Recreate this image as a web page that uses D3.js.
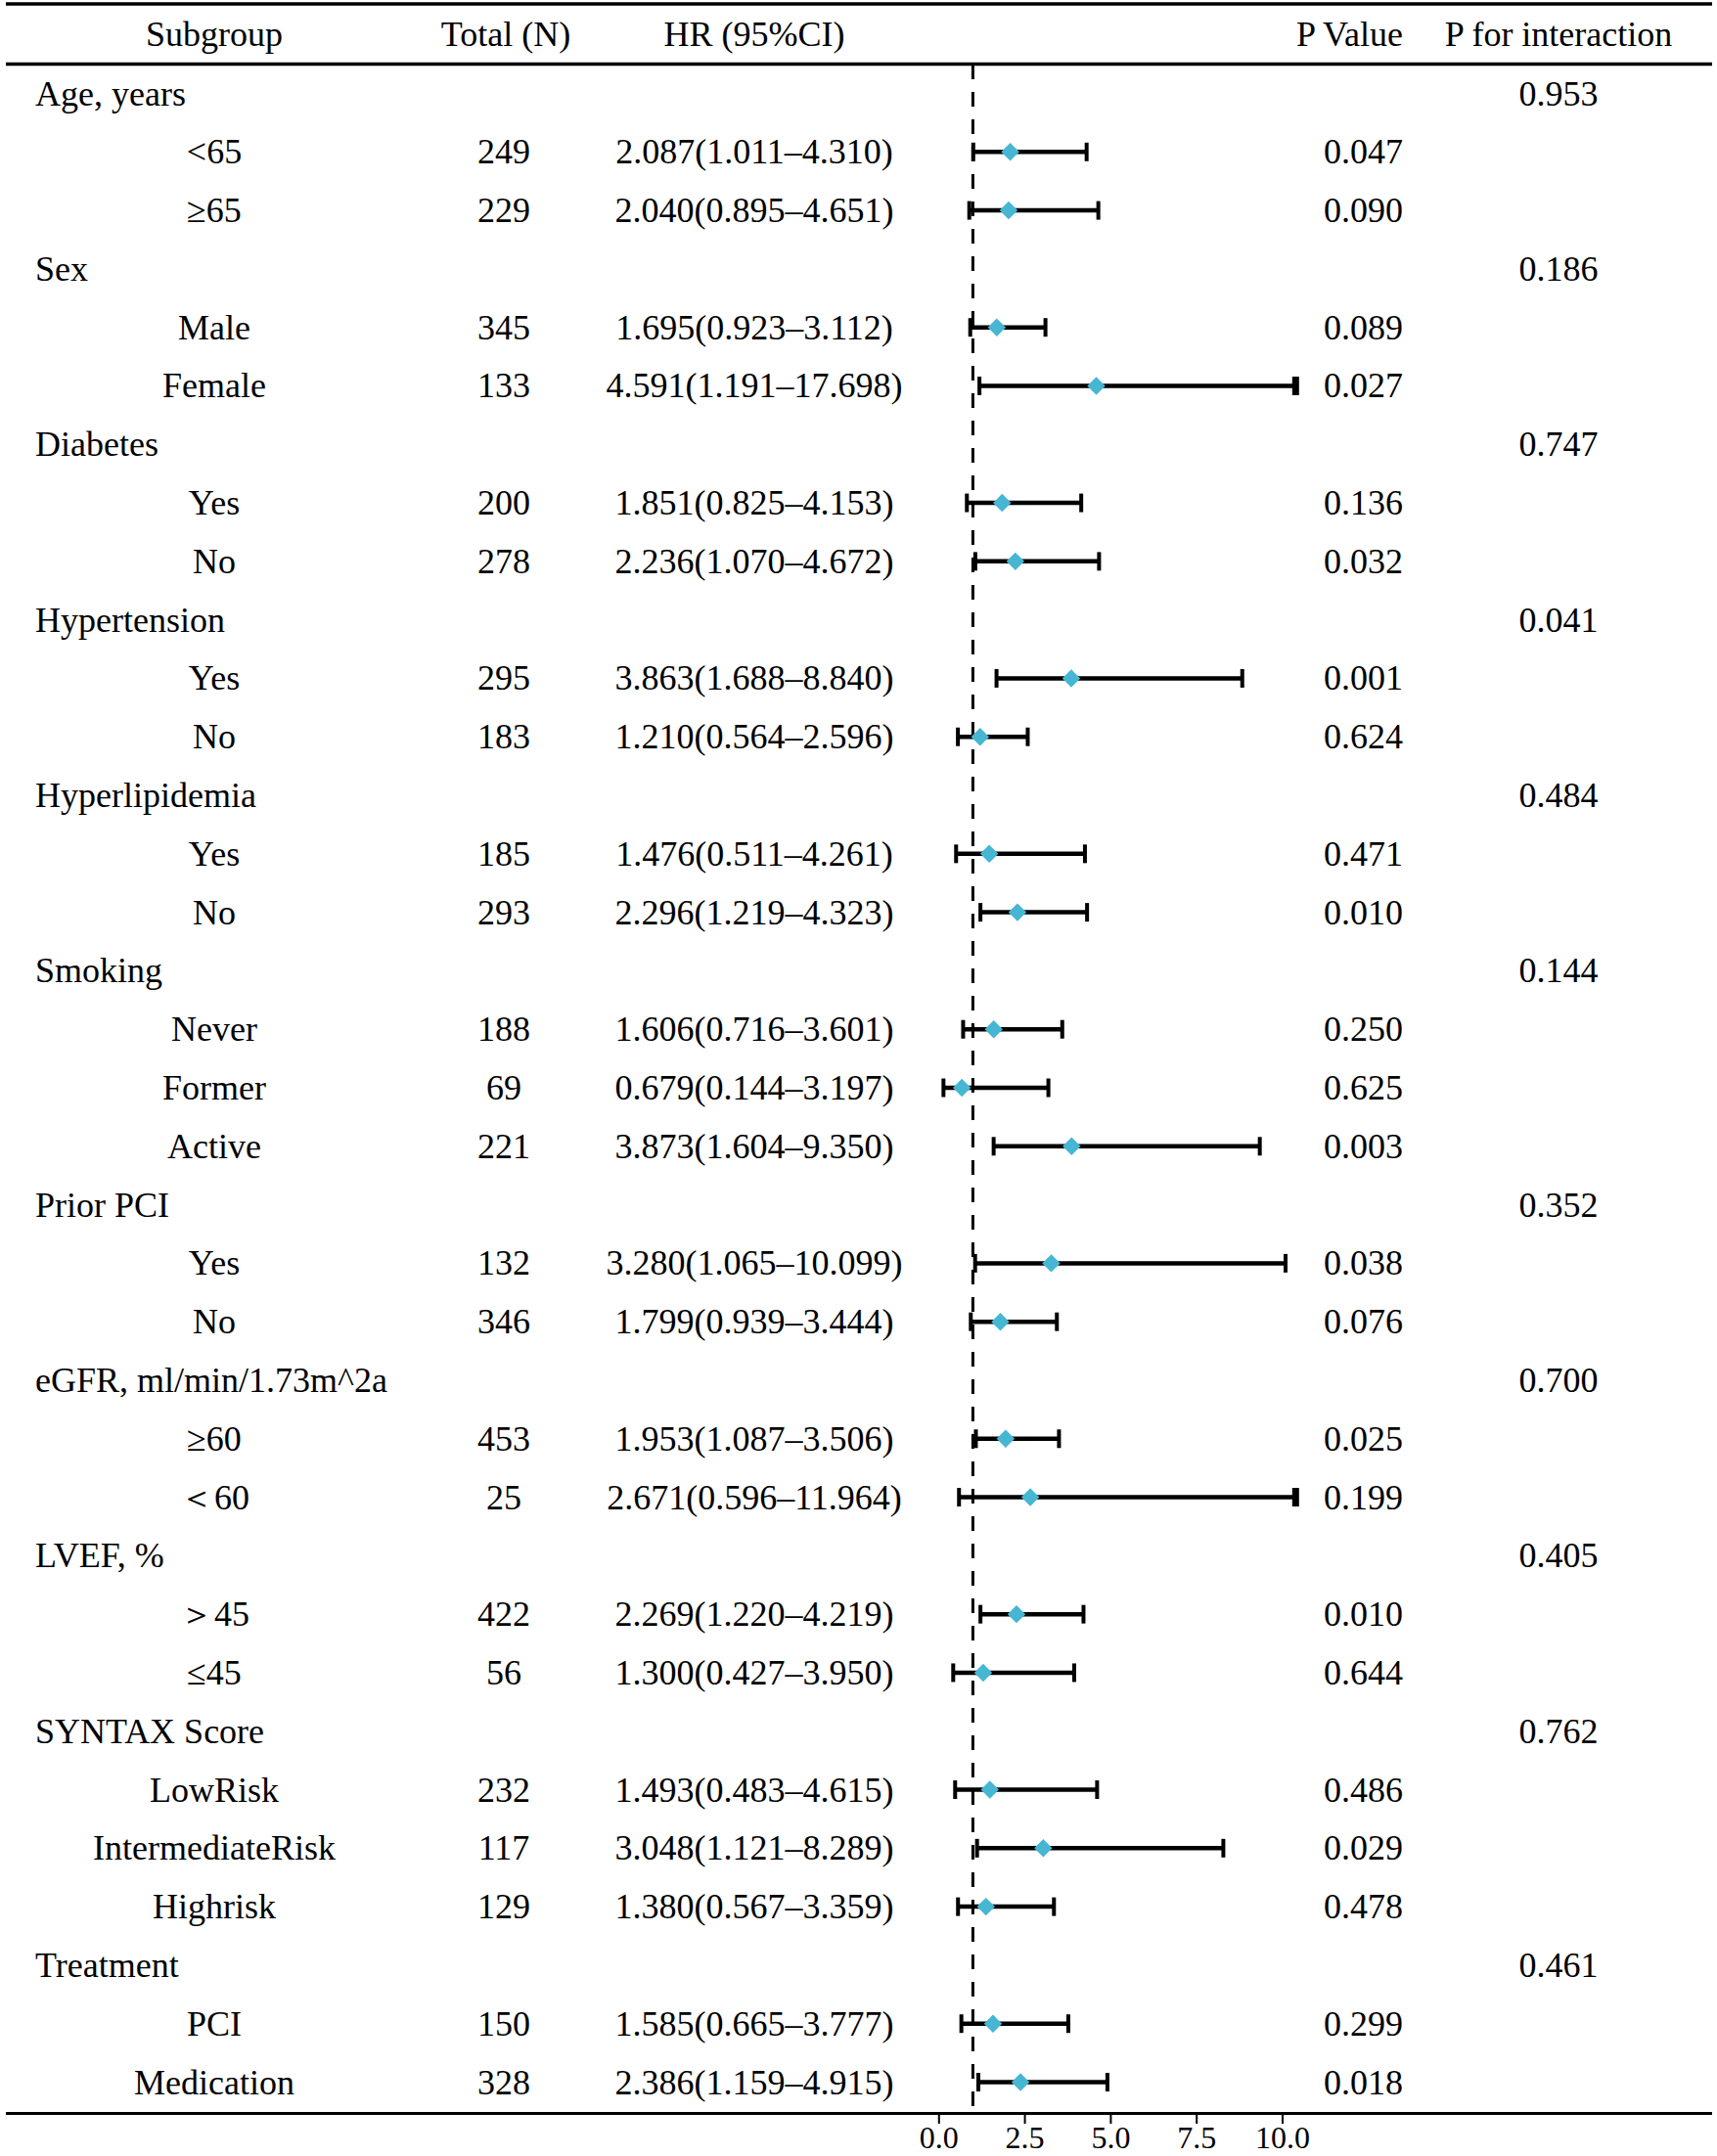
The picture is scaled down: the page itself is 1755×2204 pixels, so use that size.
<!DOCTYPE html>
<html>
<head>
<meta charset="utf-8">
<script src="https://cdn.jsdelivr.net/npm/d3@7"></script>
<style>
  body { margin: 0; background: #fff; }
  text { font-family: "Liberation Serif", "Times New Roman", serif; fill: #000; }
</style>
</head>
<body>
<div id="chart"></div>
<script>
// row labels, top to bottom (group rows have no N / HR)
var labels = ["Age, years", "<65", "\u226565", "Sex", "Male", "Female", "Diabetes", "Yes", "No",
  "Hypertension", "Yes", "No", "Hyperlipidemia", "Yes", "No", "Smoking", "Never", "Former", "Active",
  "Prior PCI", "Yes", "No", "eGFR, ml/min/1.73m^2a", "\u226560", "\uFF1C60", "LVEF, %", "\uFF1E45", "\u226445",
  "SYNTAX Score", "LowRisk", "IntermediateRisk", "Highrisk", "Treatment", "PCI", "Medication"];
var isGroup = [1,0,0, 1,0,0, 1,0,0, 1,0,0, 1,0,0, 1,0,0,0, 1,0,0, 1,0,0, 1,0,0, 1,0,0,0, 1,0,0];
var totals = [null,249,229, null,345,133, null,200,278, null,295,183, null,185,293, null,188,69,221,
  null,132,346, null,453,25, null,422,56, null,232,117,129, null,150,328];
var hr = [null,2.087,2.040, null,1.695,4.591, null,1.851,2.236, null,3.863,1.210, null,1.476,2.296,
  null,1.606,0.679,3.873, null,3.280,1.799, null,1.953,2.671, null,2.269,1.300, null,1.493,3.048,1.380,
  null,1.585,2.386];
var lower = [null,1.011,0.895, null,0.923,1.191, null,0.825,1.070, null,1.688,0.564, null,0.511,1.219,
  null,0.716,0.144,1.604, null,1.065,0.939, null,1.087,0.596, null,1.220,0.427, null,0.483,1.121,0.567,
  null,0.665,1.159];
var upper = [null,4.310,4.651, null,3.112,17.698, null,4.153,4.672, null,8.840,2.596, null,4.261,4.323,
  null,3.601,3.197,9.350, null,10.099,3.444, null,3.506,11.964, null,4.219,3.950, null,4.615,8.289,3.359,
  null,3.777,4.915];
var pValues = [null,"0.047","0.090", null,"0.089","0.027", null,"0.136","0.032", null,"0.001","0.624",
  null,"0.471","0.010", null,"0.250","0.625","0.003", null,"0.038","0.076", null,"0.025","0.199",
  null,"0.010","0.644", null,"0.486","0.029","0.478", null,"0.299","0.018"];
var pInteraction = ["0.953",null,null, "0.186",null,null, "0.747",null,null, "0.041",null,null,
  "0.484",null,null, "0.144",null,null,null, "0.352",null,null, "0.700",null,null, "0.405",null,null,
  "0.762",null,null,null, "0.461",null,null];
var tickValues = [0, 2.5, 5, 7.5, 10];
var headers = ["Subgroup", "Total (N)", "HR (95%CI)", "P Value", "P for interaction"];

var W = 1755, H = 2204;
var fontSize = 36;

var svg = d3.select("#chart").append("svg")
    .attr("width", W)
    .attr("height", H);

var rows = labels.map(function(d, i) {
  return {i: i, label: d, group: isGroup[i] === 1, n: totals[i], hr: hr[i], lo: lower[i], hi: upper[i],
    p: pValues[i], pint: pInteraction[i]};
});

// row positions
var y = d3.scalePoint()
    .domain(d3.range(labels.length))
    .range([95.5, 2128.5]);

// HR axis (plot is clipped just past 10)
var x = d3.scaleLinear()
    .domain([0, 10])
    .range([959.3, 1310.5]);
var xMax = 10.45;

// column anchors
var colSub = 219, colGroup = 36, colN = 515, colHR = 771, colP = 1434, colPint = 1593;

// table rules
svg.append("line").attr("x1", 6).attr("x2", 1750).attr("y1", 4).attr("y2", 4)
  .attr("stroke", "#000").attr("stroke-width", 3.5);
svg.append("line").attr("x1", 6).attr("x2", 1750).attr("y1", 65.5).attr("y2", 65.5)
  .attr("stroke", "#000").attr("stroke-width", 3.5);
svg.append("line").attr("x1", 6).attr("x2", 1750).attr("y1", 2160.5).attr("y2", 2160.5)
  .attr("stroke", "#000").attr("stroke-width", 3);

// headers
var hx = [colSub, 517, colHR, colP, colPint];
var ha = ["middle", "middle", "middle", "end", "middle"];
svg.selectAll(".hdr").data(headers).enter().append("text")
  .attr("class", "hdr")
  .attr("x", function(d, i) { return hx[i]; })
  .attr("y", 47)
  .attr("text-anchor", function(d, i) { return ha[i]; })
  .style("font-size", fontSize + "px")
  .text(function(d) { return d; });

// reference line at HR = 1
svg.append("line")
  .attr("x1", x(1)).attr("x2", x(1))
  .attr("y1", 66).attr("y2", 2159)
  .attr("stroke", "#000").attr("stroke-width", 3)
  .attr("stroke-dasharray", "15,13");

var base = 12;

// labels
svg.selectAll(".lab").data(rows).enter().append("text")
  .attr("class", "lab")
  .attr("x", function(d) { return d.group ? colGroup : colSub; })
  .attr("y", function(d) { return y(d.i) + base; })
  .attr("text-anchor", function(d) { return d.group ? "start" : "middle"; })
  .style("font-size", fontSize + "px")
  .text(function(d) { return d.label; });

var sub = rows.filter(function(d) { return !d.group; });

svg.selectAll(".num").data(sub).enter().append("text")
  .attr("x", colN)
  .attr("y", function(d) { return y(d.i) + base; })
  .attr("text-anchor", "middle")
  .style("font-size", fontSize + "px")
  .text(function(d) { return d.n; });

svg.selectAll(".hrtxt").data(sub).enter().append("text")
  .attr("x", colHR)
  .attr("y", function(d) { return y(d.i) + base; })
  .attr("text-anchor", "middle")
  .style("font-size", fontSize + "px")
  .text(function(d) { return d.hr.toFixed(3) + "(" + d.lo.toFixed(3) + "\u2013" + d.hi.toFixed(3) + ")"; });

svg.selectAll(".pv").data(sub).enter().append("text")
  .attr("x", colP)
  .attr("y", function(d) { return y(d.i) + base; })
  .attr("text-anchor", "end")
  .style("font-size", fontSize + "px")
  .text(function(d) { return d.p; });

svg.selectAll(".pint").data(rows.filter(function(d) { return d.group; })).enter().append("text")
  .attr("x", colPint)
  .attr("y", function(d) { return y(d.i) + base; })
  .attr("text-anchor", "middle")
  .style("font-size", fontSize + "px")
  .text(function(d) { return d.pint; });

// CI lines and caps
var ci = svg.append("g");
ci.selectAll(".ci").data(sub).enter().append("line")
  .attr("x1", function(d) { return x(d.lo); })
  .attr("x2", function(d) { return x(Math.min(d.hi, xMax)); })
  .attr("y1", function(d) { return y(d.i); })
  .attr("y2", function(d) { return y(d.i); })
  .attr("stroke", "#000").attr("stroke-width", 4.5);

ci.selectAll(".capL").data(sub).enter().append("line")
  .attr("x1", function(d) { return x(d.lo); })
  .attr("x2", function(d) { return x(d.lo); })
  .attr("y1", function(d) { return y(d.i) - 9.5; })
  .attr("y2", function(d) { return y(d.i) + 9.5; })
  .attr("stroke", "#000").attr("stroke-width", 4);

ci.selectAll(".capR").data(sub).enter().append("line")
  .attr("x1", function(d) { return x(Math.min(d.hi, xMax)) - (d.hi > xMax ? 2 : 0); })
  .attr("x2", function(d) { return x(Math.min(d.hi, xMax)) - (d.hi > xMax ? 2 : 0); })
  .attr("y1", function(d) { return y(d.i) - 9.5; })
  .attr("y2", function(d) { return y(d.i) + 9.5; })
  .attr("stroke", "#000")
  .attr("stroke-width", function(d) { return d.hi > xMax ? 7 : 4; });

// point estimates
ci.selectAll(".pt").data(sub).enter().append("path")
  .attr("d", d3.symbol().type(d3.symbolSquare).size(170))
  .attr("transform", function(d) { return "translate(" + x(d.hr) + "," + y(d.i) + ") rotate(45)"; })
  .attr("fill", "#46B6D3");

// x axis
var axis = svg.append("g")
  .attr("transform", "translate(0,2161)")
  .call(d3.axisBottom(x).tickValues(tickValues).tickFormat(d3.format(".1f")).tickSize(10).tickPadding(2));
axis.select(".domain").remove();
axis.selectAll(".tick line").attr("stroke", "#000").attr("stroke-width", 2);
axis.selectAll(".tick text")
  .style("font-family", "'Liberation Serif', 'Times New Roman', serif")
  .style("font-size", "32px")
  .attr("fill", "#000");
</script>
</body>
</html>
